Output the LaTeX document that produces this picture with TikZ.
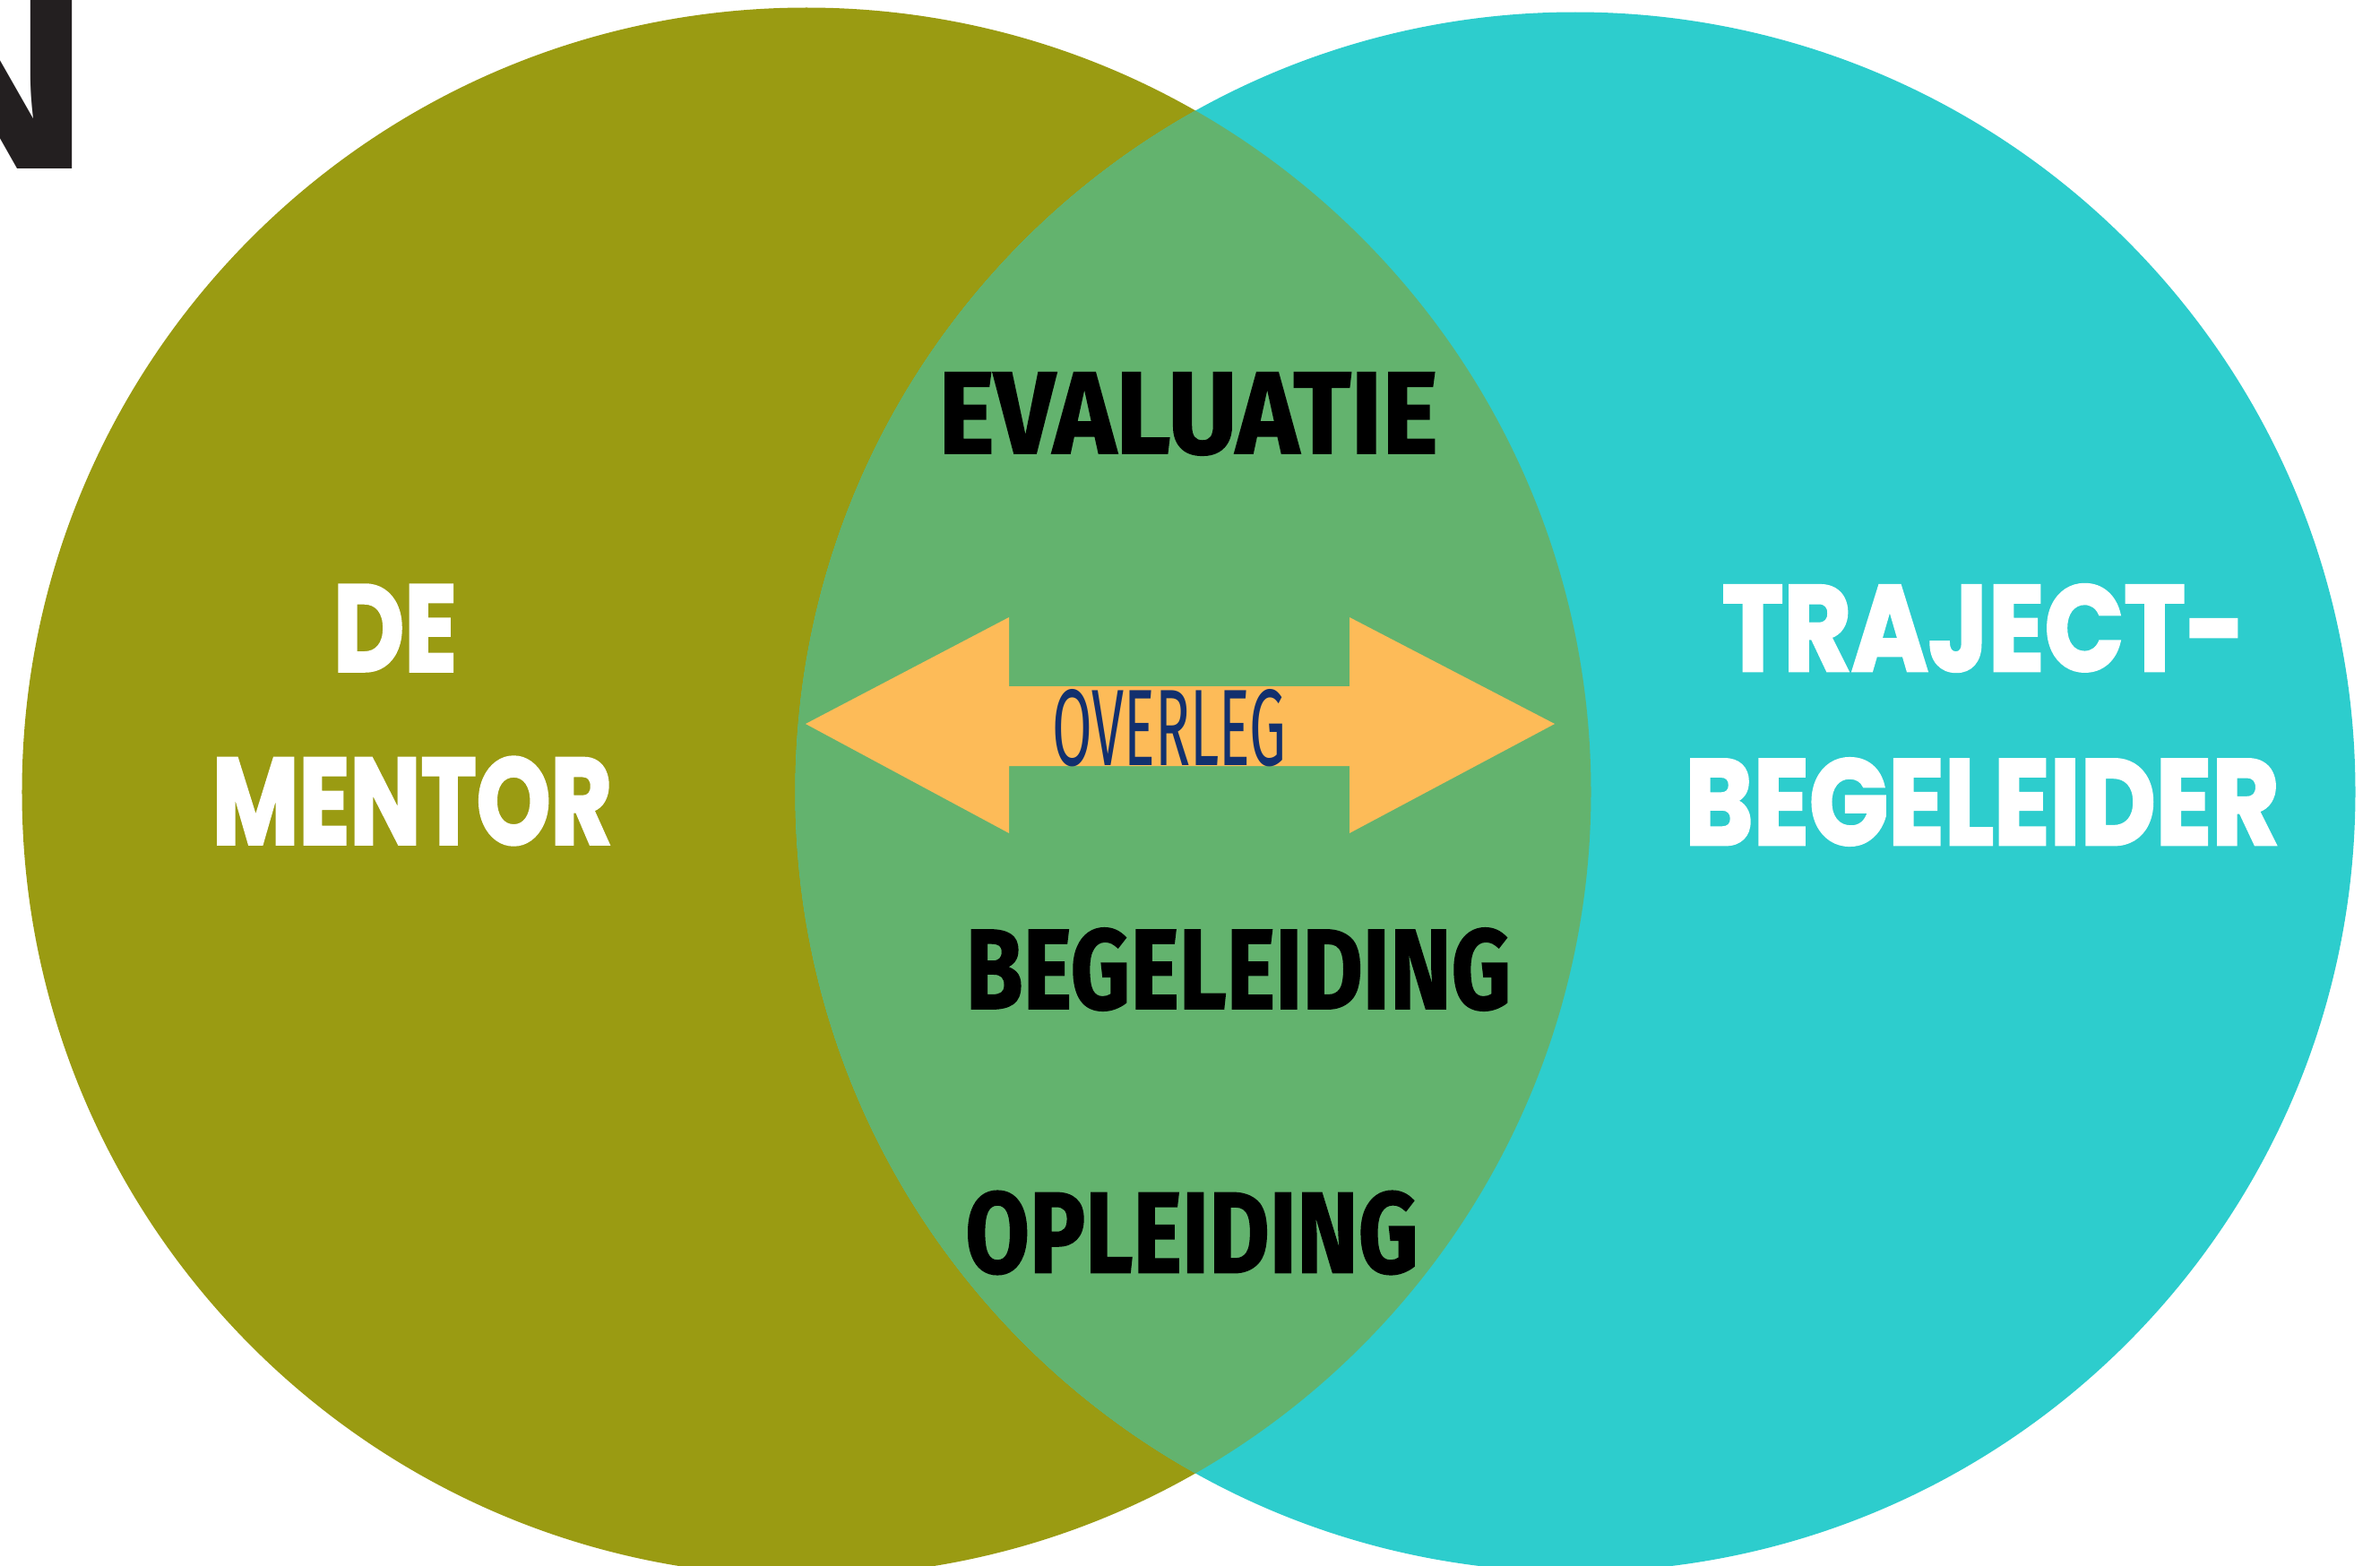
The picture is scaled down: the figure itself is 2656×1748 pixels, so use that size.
\documentclass[tikz,border=0pt]{standalone}
\usepackage{graphicx,color}
\usepackage{fontspec}
\usepackage{tikz}
\setmainfont{Fira Sans}[BoldFeatures={FakeBold=1.5}]
\newfontfamily\headfont{Poppins}[BoldFeatures={FakeBold=2.5}]
\newfontfamily\titlefont{Liberation Sans}

\definecolor{mentorc}{HTML}{9A9B12}
\definecolor{trajectc}{HTML}{2DCDCD}
\definecolor{overlapc}{HTML}{63B36E}
\definecolor{arrowc}{HTML}{FDBB58}
\definecolor{overlegc}{HTML}{12306E}
\definecolor{titlec}{HTML}{231F20}

\newcommand{\fitword}[3]{\resizebox{#1cm}{#2cm}{#3}}

\tikzset{
  party/.style={circle, inner sep=0pt, outer sep=0pt},
  rolelabel/.style={inner sep=0pt, text=white, font=\headfont\bfseries},
  tasklabel/.style={inner sep=0pt, text=black, font=\bfseries},
}

\begin{document}
\begin{tikzpicture}[x=0.01cm, y=-0.01cm]
\useasboundingbox (0,0) rectangle (2656,1748);

\node [party, fill=mentorc, minimum size=17.5cm] (mentor) at (900,884) {};
\node [party, fill=trajectc, minimum size=17.4cm] (begeleider) at (1758,884) {};
\begin{scope}
\clip (mentor.center) circle [radius=8.75cm];
\fill [overlapc] (begeleider.center) circle [radius=8.7cm];
\end{scope}

\fill [arrowc] (899,808) -- (1126,689) -- (1126,766) -- (1506,766)
  -- (1506,689) -- (1735,808) -- (1506,930) -- (1506,855)
  -- (1126,855) -- (1126,930) -- cycle;

\node [anchor=base east, inner sep=0pt, text=titlec,
    font=\titlefont\bfseries\fontsize{103}{103}\selectfont] (title) at (106,188) {N};

\node [rolelabel] (de) at (441,701) {\fitword{1.38}{0.96}{DE}};
\node [rolelabel] (mentorname) at (460,894) {\fitword{4.46}{0.97}{MENTOR}};
\node [rolelabel] (traject) at (2214,701) {\fitword{5.84}{0.96}{TRAJECT-}};
\node [rolelabel] (begeleidername) at (2212,895) {\fitword{6.63}{0.96}{BEGELEIDER}};

\node [tasklabel] (evaluatie) at (1326,462) {\fitword{5.57}{0.90}{EVALUATIE}};
\node [tasklabel] (begeleiding) at (1382,1082) {\fitword{6.08}{0.90}{BEGELEIDING}};
\node [tasklabel] (opleiding) at (1330,1376) {\fitword{5.05}{0.91}{OPLEIDING}};

\node [inner sep=0pt, text=overlegc] (overleg) at (1305,813) {\fitword{2.61}{0.85}{OVERLEG}};
\end{tikzpicture}
\end{document}
